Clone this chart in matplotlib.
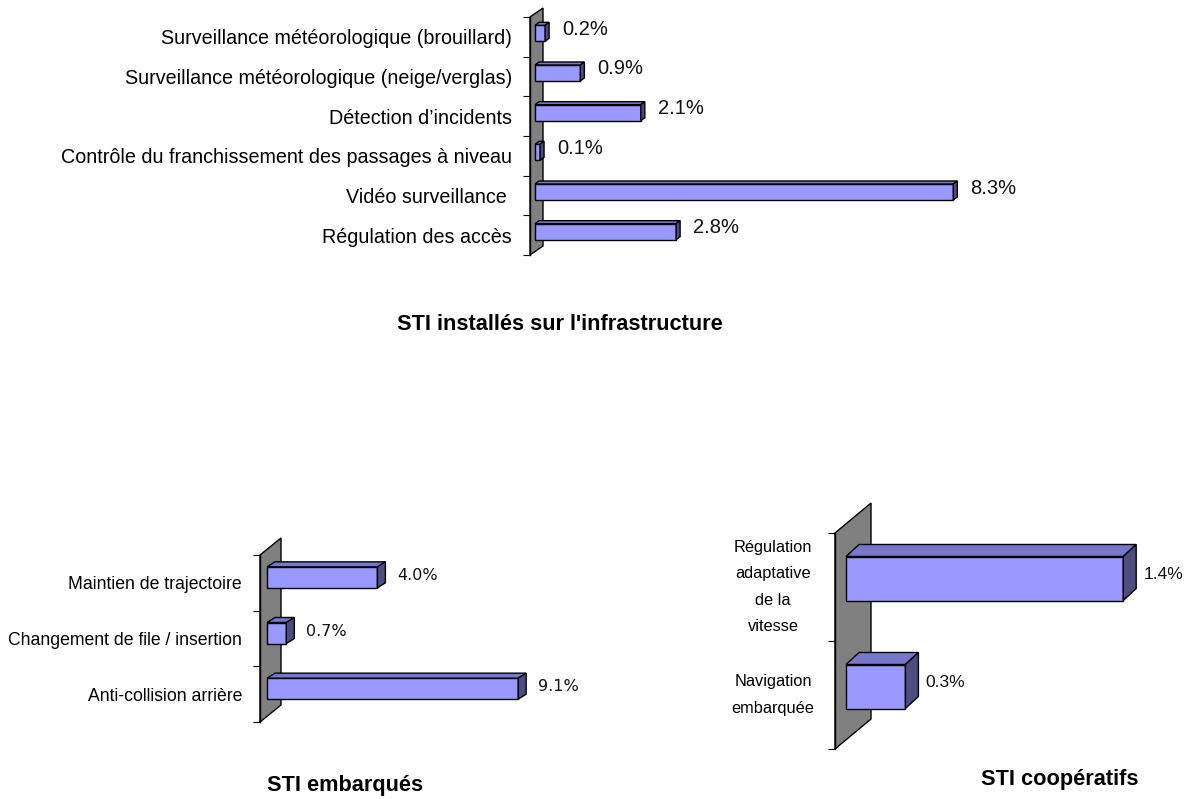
import matplotlib.pyplot as plt
from matplotlib.patches import Polygon
from matplotlib import font_manager

W, H = 1190, 799

# police etroite si elle existe (le modele ressemble a Helvetica Narrow)
try:
    font_manager.findfont('Liberation Sans Narrow', fallback_to_default=False)
    NARROW = True
except ValueError:
    NARROW = False
FAM = 'Liberation Sans Narrow' if NARROW else 'Liberation Sans'
plt.rcParams['font.family'] = [FAM, 'DejaVu Sans']


def sz(narrow, regular):
    return narrow if NARROW else regular


# --- donnees (bas -> haut) ---
infra_labels = ['Régulation des accès', 'Vidéo surveillance ',
                'Contrôle du franchissement des passages à niveau',
                'Détection d\u2019incidents',
                'Surveillance météorologique (neige/verglas)',
                'Surveillance météorologique (brouillard)']
infra_vals = [2.8, 8.3, 0.1, 2.1, 0.9, 0.2]

emb_labels = ['Anti-collision arrière', 'Changement de file / insertion',
              'Maintien de trajectoire']
emb_vals = [9.1, 0.7, 4.0]

coop_labels = ['Navigation\nembarquée', 'Régulation\nadaptative\nde la\nvitesse']
coop_vals = [0.3, 1.4]

FRONT = '#9999FF'
TOP = '#7777CC'
SIDE = '#4D4D80'
WALL = '#808080'
TITLE_SIZE = sz(18.5, 15.7)


def panel(vals, labels, title, wall_l, x0, pxx, y_top, y_bot, wall_dx, wall_dy,
          bar_h, bar_off, ddx, ddy, lab_dx, lab_dy, x_right, lab_pad,
          lab_size, val_font, val_size, title_xy, multiline=False, ls=1.6):
    n = len(vals)
    pxy = (y_bot - y_top) / n
    ax = fig.add_axes([wall_l / W, 1 - y_bot / H, (x_right - wall_l) / W, (y_bot - y_top) / H])
    ax.set_xlim((wall_l - x0) / pxx, (x_right - x0) / pxx)
    ax.set_ylim(-0.5, n - 0.5)
    for s in ['top', 'right', 'bottom', 'left']:
        ax.spines[s].set_visible(False)
    ax.set_xticks([])

    # mur gris
    xl = (wall_l - x0) / pxx
    xr = xl + wall_dx / pxx
    wdy = wall_dy / pxy
    ax.add_patch(Polygon([(xl, -0.5), (xl, n - 0.5), (xr, n - 0.5 + wdy), (xr, -0.5 + wdy)],
                         closed=True, facecolor=WALL, edgecolor='black', lw=1.0,
                         clip_on=False, zorder=1))

    ys = [i + bar_off / pxy for i in range(n)]
    h = bar_h / pxy
    dx = ddx / pxx
    dy = ddy / pxy
    ax.barh(ys, vals, height=h, left=0, color=FRONT, edgecolor='black', lw=1.0, zorder=3)
    for v, y in zip(vals, ys):
        yt = y + h / 2
        yb = y - h / 2
        ax.add_patch(Polygon([(0, yt), (v, yt), (v + dx, yt + dy), (dx, yt + dy)],
                             closed=True, facecolor=TOP, edgecolor='black', lw=1.0,
                             clip_on=False, zorder=3))
        ax.add_patch(Polygon([(v, yb), (v, yt), (v + dx, yt + dy), (v + dx, yb + dy)],
                             closed=True, facecolor=SIDE, edgecolor='black', lw=1.0,
                             clip_on=False, zorder=3))
        ax.annotate(f'{v:.1f}%', xy=(v, y), xytext=(lab_dx, lab_dy), textcoords='offset pixels',
                    ha='left', va='center', fontsize=val_size, family=val_font,
                    color='#111111', annotation_clip=False)

    # graduations aux limites des categories
    ax.set_yticks([i - 0.5 for i in range(n + 1)], minor=True)
    ax.tick_params(axis='y', which='minor', length=7 * 72 / 100, width=0.8, direction='out')
    ax.plot([xl, xl], [-0.5, n - 0.5], color='black', lw=1.0, clip_on=False, zorder=2)
    ax.set_yticks(range(n))
    if multiline:
        ax.set_yticklabels([])
        ax.tick_params(axis='y', which='major', length=0)
        for i, lab in enumerate(labels):
            ax.annotate(lab, xy=(xl, i), xytext=(-lab_pad, 0), textcoords='offset pixels',
                        ha='center', va='center', multialignment='center',
                        fontsize=lab_size, linespacing=ls, annotation_clip=False)
    else:
        ax.set_yticklabels(labels, fontsize=lab_size)
        ax.tick_params(axis='y', which='major', length=0, pad=lab_pad * 72 / 100)

    fig.text(title_xy[0] / W, 1 - title_xy[1] / H, title, ha='center', va='center',
             fontsize=TITLE_SIZE, fontweight='bold')
    return ax


fig = plt.figure(figsize=(W / 100, H / 100), dpi=100)

panel(infra_vals, infra_labels, "STI installés sur l'infrastructure",
      wall_l=530, x0=535, pxx=50.4, y_top=17, y_bot=255, wall_dx=13, wall_dy=9,
      bar_h=16, bar_off=3.5, ddx=4, ddy=3, lab_dx=17, lab_dy=4, x_right=1000,
      lab_pad=18, lab_size=sz(16.5, 14.2), val_font=[FAM, 'DejaVu Sans'],
      val_size=sz(16.5, 14.5), title_xy=(560, 325))

panel(emb_vals, emb_labels, 'STI embarqués',
      wall_l=260, x0=267, pxx=27.6, y_top=555, y_bot=722, wall_dx=21, wall_dy=17,
      bar_h=21, bar_off=5.5, ddx=8, ddy=5, lab_dx=20, lab_dy=2, x_right=560,
      lab_pad=18, lab_size=sz(15, 12.7), val_font=['DejaVu Sans'], val_size=11.5,
      title_xy=(345, 785))

panel(coop_vals, coop_labels, 'STI coopératifs',
      wall_l=835, x0=846, pxx=198, y_top=533, y_bot=749, wall_dx=36, wall_dy=30,
      bar_h=44, bar_off=8.5, ddx=13, ddy=12, lab_dx=20, lab_dy=4, x_right=1150,
      lab_pad=62, lab_size=sz(14.4, 11.8), val_font=[FAM, 'DejaVu Sans'],
      val_size=sz(15, 12.5), title_xy=(1060, 780), multiline=True,
      ls=sz(1.59, 1.94))

fig.savefig('out.png', dpi=100)
